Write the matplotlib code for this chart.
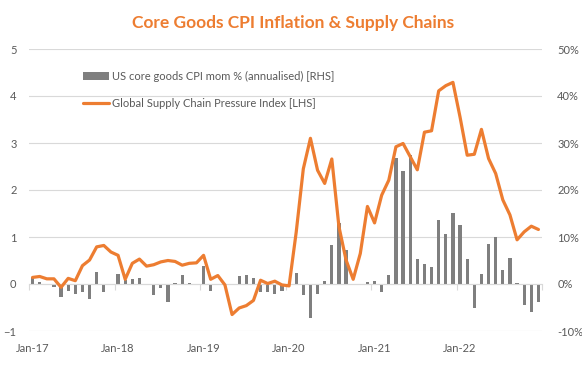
import numpy as np
import matplotlib
matplotlib.use("Agg")
import matplotlib.pyplot as plt

plt.rcParams['font.family'] = ['Lato', 'DejaVu Sans']

# ---- data (monthly, Jan-17 .. Dec-22) ----
tick_labels = ["Jan-17", "Jan-18", "Jan-19", "Jan-20", "Jan-21", "Jan-22"]

gscpi = [
    # 2017
    0.14, 0.16, 0.11, 0.11, -0.07, 0.12, 0.07, 0.39, 0.51, 0.79, 0.82, 0.68,
    # 2018
    0.61, 0.10, 0.44, 0.53, 0.38, 0.41, 0.47, 0.50, 0.48, 0.40, 0.44, 0.45,
    # 2019
    0.61, 0.10, 0.18, -0.02, -0.65, -0.51, -0.46, -0.35, 0.08, 0.01, 0.06, -0.02,
    # 2020
    -0.04, 1.10, 2.45, 3.10, 2.42, 2.14, 2.66, 1.22, 0.51, 0.10, 0.65, 1.65,
    # 2021
    1.30, 1.89, 2.21, 2.92, 2.99, 2.71, 2.43, 3.23, 3.26, 4.11, 4.22, 4.29,
    # 2022
    3.55, 2.74, 2.76, 3.29, 2.67, 2.35, 1.79, 1.47, 0.94, 1.11, 1.23, 1.16,
]

core_goods = [
    # 2017
    1.5, 0.5, 0.0, -0.6, -2.7, -1.4, -2.1, -1.8, -3.1, 2.6, -1.6, 0.0,
    # 2018
    2.1, 0.9, 1.1, 1.3, 0.0, -2.3, -0.8, -3.8, 0.2, 1.9, 0.2, -0.3,
    # 2019
    3.9, -1.4, -0.3, 0.0, 0.0, 1.7, 1.9, 1.3, -1.6, -1.8, -2.2, -1.5,
    # 2020
    0.0, 2.4, -2.3, -7.2, -2.2, 0.6, 8.4, 13.0, 7.3, 0.0, -0.2, 0.4,
    # 2021
    0.6, -1.6, 2.0, 26.9, 24.0, 27.5, 5.4, 4.3, 3.7, 13.7, 10.7, 15.1,
    # 2022
    12.6, 5.4, -5.0, 2.2, 8.6, 9.9, 2.9, 5.6, 0.3, -4.4, -6.0, -3.9,
]

bar_label = "US core goods CPI mom % (annualised) [RHS]"
line_label = "Global Supply Chain Pressure Index [LHS]"
title = "Core Goods CPI Inflation & Supply Chains"

ORANGE = "#ED7D31"
GREY_BAR = "#7F7F7F"
GRID = "#D9D9D9"
TXT = "#595959"

W, H = 582, 365
fig = plt.figure(figsize=(W / 100, H / 100), dpi=100)
ax = fig.add_axes([29 / W, 34 / H, 513 / W, 282 / H])
ax2 = ax.twinx()

x = np.arange(len(gscpi))

# bars on secondary (lower) axes
ax2.set_zorder(1)
ax.set_zorder(2)
ax.patch.set_visible(False)
bars = ax2.bar(x, core_goods, width=0.45, color=GREY_BAR, label=bar_label, zorder=2)
ax2.set_ylim(-10, 50)
ax2.set_yticks(np.arange(-10, 51, 10))
ax2.set_yticklabels([f"{v}%" for v in range(-10, 51, 10)])
ax2.yaxis.grid(True, color=GRID, linewidth=0.8)
ax2.set_axisbelow(True)

# line on primary axes
line, = ax.plot(x, gscpi, color=ORANGE, linewidth=2.3, solid_joinstyle='round',
                solid_capstyle='round', label=line_label, zorder=3)
ax.set_ylim(-1, 5)
ax.set_yticks(np.arange(-1, 6, 1))
ax.set_xlim(-0.5, len(gscpi) - 0.5)

# x ticks (shared)
ax.set_xticks(np.arange(0, len(gscpi), 12))
ax.set_xticks(np.arange(-0.5, len(gscpi) + 0.5, 12), minor=True)
ax2.xaxis.set_visible(True)
ax2.set_xticklabels(tick_labels)

for s in ax.spines.values():
    s.set_visible(False)
for s in ax2.spines.values():
    s.set_visible(False)
ax.spines['bottom'].set_visible(True)
ax.spines['bottom'].set_position(('data', 0))
ax.spines['bottom'].set_color(GRID)
ax.spines['bottom'].set_linewidth(0.8)

ax.tick_params(axis='x', which='major', length=0, labelbottom=False)
ax.tick_params(axis='x', which='minor', length=4, width=0.8, color=GRID,
               direction='out', labelbottom=False)
ax2.tick_params(axis='x', which='major', length=0, labelbottom=True,
                labelsize=8, labelcolor=TXT, pad=9)
ax2.tick_params(axis='x', which='minor', length=0)
ax.tick_params(axis='y', length=0, labelsize=8, labelcolor=TXT, pad=9)
ax2.tick_params(axis='y', length=0, labelsize=8, labelcolor=TXT, pad=11)

fig.legend([bars, line], [bar_label, line_label], loc='upper left',
           bbox_to_anchor=(83 / W, 1 - 71 / H), frameon=False, fontsize=8,
           labelcolor=TXT, handlelength=2.35, handleheight=0.65,
           handletextpad=0.3, labelspacing=1.45, borderpad=0, borderaxespad=0)

fig.text(293 / W, 1 - 23 / H, title, ha='center', va='center',
         fontsize=12.5, fontweight='bold', color=ORANGE)

fig.savefig("out.png", dpi=100, facecolor='white')
